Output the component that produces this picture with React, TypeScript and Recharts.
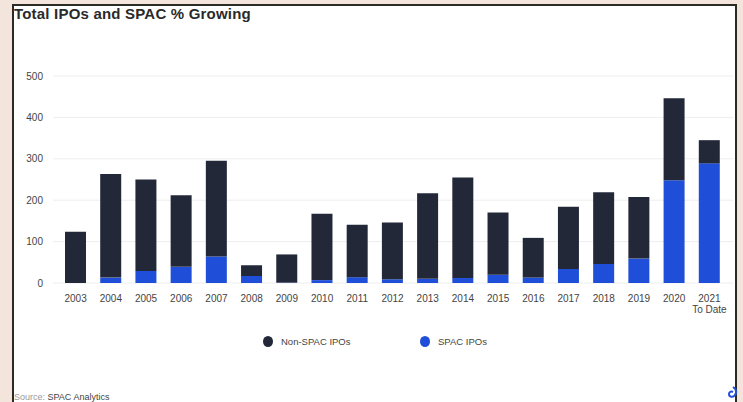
import { BarChart, Bar, XAxis, YAxis, CartesianGrid } from 'recharts';

const years = ['2003', '2004', '2005', '2006', '2007', '2008', '2009', '2010', '2011', '2012', '2013', '2014', '2015', '2016', '2017', '2018', '2019', '2020', '2021'];
const spacIpos = [0, 13, 29, 39, 64, 17, 1, 7, 14, 9, 10, 12, 20, 13, 34, 46, 59, 248, 289];
const nonSpacIpos = [124, 250, 221, 173, 231, 26, 68, 160, 127, 137, 207, 243, 150, 96, 150, 173, 149, 198, 56];
const yTicks = [0, 100, 200, 300, 400, 500];

const NAVY = '#232839';
const BLUE = '#1f4fd8';
const FONT = '"Liberation Sans", Arial, sans-serif';

const data = years.map((year, i) => ({
  year,
  spac: spacIpos[i],
  nonSpac: nonSpacIpos[i],
}));

function YearTick({ x, y, payload }: any) {
  const last = payload.value === '2021';
  return (
    <g transform={`translate(${x},${y})`}>
      <text x={0} y={0} dy={11} textAnchor="middle" fill="#444" fontSize={10} fontFamily={FONT}>
        {payload.value}
      </text>
      {last && (
        <text x={0} y={0} dy={22} textAnchor="middle" fill="#444" fontSize={10} fontFamily={FONT}>
          To Date
        </text>
      )}
    </g>
  );
}

const legendItems = [
  { label: 'Non-SPAC IPOs', color: NAVY, left: 263 },
  { label: 'SPAC IPOs', color: BLUE, left: 420 },
];

export default function App() {
  return (
    <div style={{ position: 'fixed', left: 0, top: 0, width: 743, height: 402, background: '#f3e5dc', overflow: 'hidden' }}>
      <div style={{ position: 'absolute', left: 12, top: 4, width: 725, height: 400, background: '#fff', border: '2px solid #2c2a24', boxSizing: 'border-box' }} />
      <div style={{ position: 'absolute', left: 14, top: 5, fontFamily: FONT, fontWeight: 700, fontSize: 15, color: '#2a2a2a', letterSpacing: 0.2 }}>
        Total IPOs and SPAC % Growing
      </div>
      <div style={{ position: 'absolute', left: 0, top: 0 }}>
        <BarChart width={743} height={402} data={data} margin={{ top: 76, right: 10, bottom: 89, left: 0 }} barSize={21}>
          <CartesianGrid vertical={false} stroke="#eeeeee" />
          <XAxis dataKey="year" height={30} axisLine={false} tickLine={false} interval={0} padding={{ left: 5, right: 6 }} tick={<YearTick />} />
          <YAxis
            domain={[0, 500]}
            ticks={yTicks}
            axisLine={false}
            tickLine={false}
            width={53}
            tickMargin={4}
            tick={{ fill: '#444', fontSize: 10, fontFamily: FONT }}
          />
          <Bar dataKey="spac" stackId="ipo" fill={BLUE} isAnimationActive={false} />
          <Bar dataKey="nonSpac" stackId="ipo" fill={NAVY} isAnimationActive={false} />
        </BarChart>
      </div>
      {legendItems.map((it) => (
        <div
          key={it.label}
          style={{ position: 'absolute', left: it.left, top: 336, display: 'flex', alignItems: 'center', fontFamily: FONT, fontSize: 9.5, color: '#444' }}
        >
          <span style={{ width: 10, height: 11, borderRadius: '50%', background: it.color, display: 'inline-block', marginRight: 8 }} />
          {it.label}
        </div>
      ))}
      <div style={{ position: 'absolute', left: 14, top: 392, fontFamily: FONT, fontSize: 9, color: '#999' }}>
        Source: <span style={{ color: '#444' }}>SPAC Analytics</span>
      </div>
      <svg style={{ position: 'absolute', left: 727, top: 386 }} width={12} height={14}>
        <path d="M6 1 C9 3 10 6 8 9 C6 12 2 11 2 8 C2 6 4 5 6 6" stroke={BLUE} strokeWidth={2} fill="none" />
      </svg>
    </div>
  );
}
